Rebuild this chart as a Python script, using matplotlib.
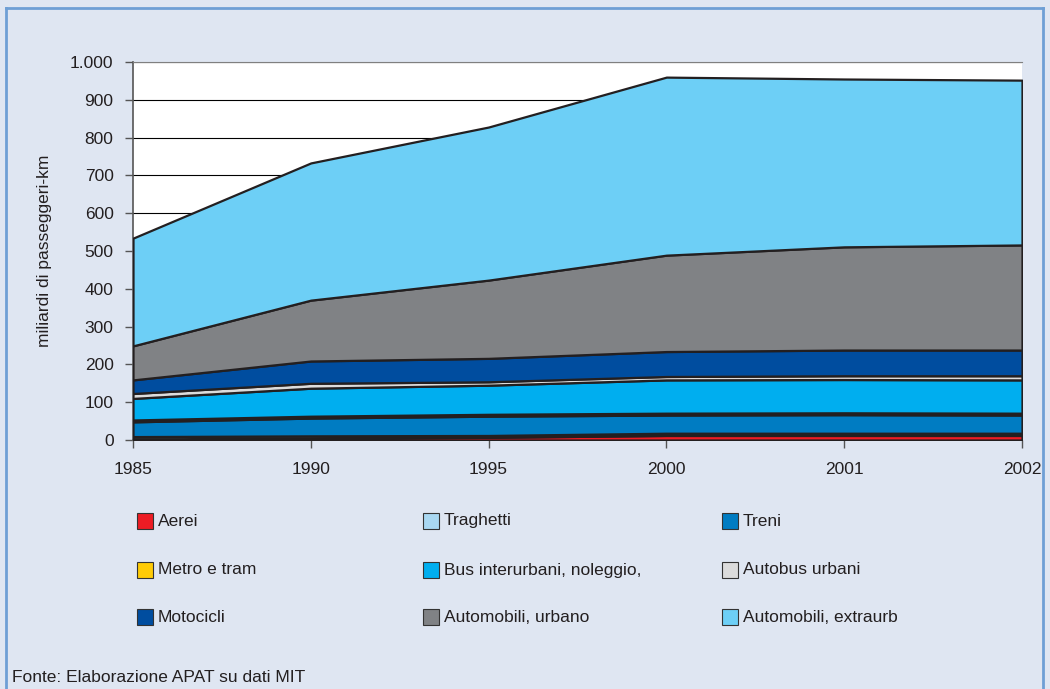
import matplotlib
matplotlib.use("Agg")
import matplotlib.pyplot as plt
from matplotlib.patches import Rectangle
from matplotlib.lines import Line2D
import numpy as np

plt.rcParams['font.family'] = ['Liberation Sans Narrow', 'Liberation Sans', 'DejaVu Sans']

years = ["1985", "1990", "1995", "2000", "2001", "2002"]

# miliardi di passeggeri-km, stacked from the bottom up
aerei = [3, 5, 7, 12, 12, 12]
traghetti = [6, 6, 5, 6, 6, 6]
treni = [39, 47, 51, 48, 49, 48]
metro_tram = [5, 5, 5, 5, 5, 5]
bus_interurbani = [57, 74, 77, 88, 88, 88]
autobus_urbani = [13, 13, 9, 9, 10, 11]
motocicli = [36, 59, 62, 66, 68, 68]
auto_urbano = [90, 161, 207, 255, 273, 278]
auto_extraurb = [285, 363, 405, 471, 444, 436]

series = [aerei, traghetti, treni, metro_tram, bus_interurbani,
          autobus_urbani, motocicli, auto_urbano, auto_extraurb]
labels = ["Aerei", "Traghetti", "Treni", "Metro e tram",
          "Bus interurbani, noleggio,", "Autobus urbani", "Motocicli",
          "Automobili, urbano", "Automobili, extraurb"]
colors = ["#ed1c24", "#a9d8f2", "#007cc2", "#ffcb05", "#00aeef",
          "#dcdcdc", "#004d9f", "#808285", "#6dcff6"]

bg = "#dfe6f2"
edge = "#231f20"

fig = plt.figure(figsize=(10.5, 6.89), dpi=100, facecolor=bg)
W, H = 1050, 689

def fx(px):
    return px / W

def fy(py):
    return 1 - py / H

ax = fig.add_axes([fx(133), fy(440), fx(1022) - fx(133), fy(62) - fy(440)])
ax.set_facecolor("white")

x = np.arange(len(years))
ax.stackplot(x, *series, colors=colors, edgecolor=edge, linewidth=1.6, zorder=3)

ax.set_xlim(0, len(years) - 1)
ax.set_ylim(0, 1000)
ax.set_yticks(np.arange(0, 1001, 100))
ax.set_yticklabels(["0", "100", "200", "300", "400", "500", "600", "700",
                    "800", "900", "1.000"])
ax.set_xticks(x)
ax.set_xticklabels(years)
ax.grid(axis="y", color="black", linewidth=0.8, zorder=1)
ax.set_axisbelow(True)

for s in ["right"]:
    ax.spines[s].set_visible(False)
ax.spines["top"].set_color("#808080")
ax.spines["left"].set_color("#555555")
ax.spines["bottom"].set_color("#555555")
ax.spines["left"].set_linewidth(1.2)
ax.spines["bottom"].set_linewidth(1.2)
ax.tick_params(axis="both", direction="out", length=6, width=1, color="#555555",
               labelsize=12.5, labelcolor="#231f20")
ax.tick_params(axis="x", pad=10)
ax.tick_params(axis="y", pad=8)

fig.text(fx(45), fy(251), "miliardi di passeggeri-km", rotation=90,
         ha="center", va="center", fontsize=12.5, color="#231f20")

# legend: three columns, filled row by row
col_x = [137, 423, 722]
row_y = [521, 570, 617]
sq = 16
for i, (lab, col) in enumerate(zip(labels, colors)):
    r, c = divmod(i, 3)
    x0, y0 = col_x[c], row_y[r]
    fig.patches.append(Rectangle((fx(x0), fy(y0 + sq / 2)), sq / W, sq / H,
                                 transform=fig.transFigure, facecolor=col,
                                 edgecolor="#333333", linewidth=0.8))
    fig.text(fx(x0 + sq + 5), fy(y0), lab, ha="left", va="center",
             fontsize=12.5, color="#231f20")

fig.text(fx(12), fy(677), "Fonte: Elaborazione APAT su dati MIT",
         ha="left", va="center", fontsize=12.5, color="#231f20")

# frame lines around the box
frame_col = "#6e9fd5"
fig.lines.append(Line2D([fx(6), fx(6)], [0, fy(8)], transform=fig.transFigure,
                        color=frame_col, linewidth=2))
fig.lines.append(Line2D([fx(6), fx(1043)], [fy(8), fy(8)], transform=fig.transFigure,
                        color=frame_col, linewidth=2))
fig.lines.append(Line2D([fx(1043), fx(1043)], [fy(8), 0], transform=fig.transFigure,
                        color=frame_col, linewidth=2))

fig.savefig("out.png", dpi=100, facecolor=bg)
